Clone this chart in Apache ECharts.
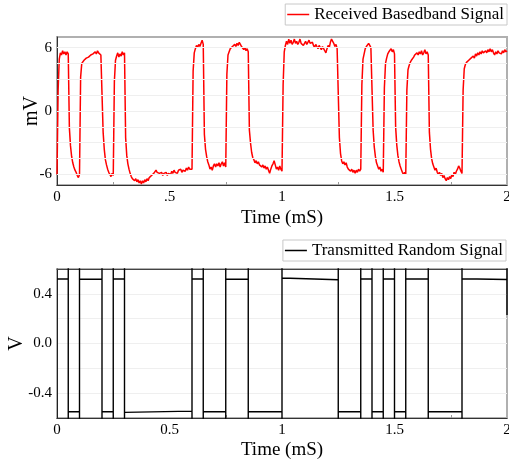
<!DOCTYPE html>
<html>
<head>
<meta charset="utf-8">
<title>Baseband signals</title>
<script src="https://cdn.jsdelivr.net/npm/echarts@6/dist/echarts.min.js"></script>
<style>
  html, body { margin: 0; padding: 0; background: #fff; }
  #chart { width: 509px; height: 468px; }
</style>
</head>
<body>
<div id="chart"></div>
<script>
// Time axis shared by both panels (mS)
const timeTicks = [0, 0.5, 1, 1.5, 2];
const rxTimeLabels = ['0', '.5', '1', '1.5', '2'];
const txTimeLabels = ['0', '0.5', '1', '1.5', '2'];

// Received baseband signal (mV), one sample every 0.005 mS from 0 to 2 mS
const rxStep = 0.005;
const rxValues = [
  -6.0, 2.0, 4.9, 5.5, 5.3, 5.7, 5.4, 5.6, 5.3, 5.6, 5.4,
  -1.6, -3.3, -4.3, -4.9, -5.3, -5.6, -5.8, -6.1, -6.3, -6.0,
  3.2, 4.5, 4.6, 4.8, 4.7, 5.0, 4.9, 5.1, 5.0, 5.3,
  5.2, 5.4, 5.3, 5.6, 5.4, 5.7, 5.5, 5.6, 5.3, 5.4,
  -2.0, -3.6, -4.6, -5.1, -5.5, -5.8, -6.0, -6.2, -5.9, -6.1,
  2.8, 4.8, 5.2, 5.5, 5.1, 5.4, 5.2, 5.6, 5.3, 5.5,
  -2.5, -4.2, -5.0, -5.5, -5.9, -6.2, -6.4, -6.3, -6.6, -6.4,
  -6.7, -6.5, -6.8, -6.6, -6.9, -6.6, -6.8, -6.5, -6.7, -6.4,
  -6.6, -6.3, -6.4, -6.1, -6.2, -5.9, -5.8, -5.6, -5.8, -5.7,
  -5.9, -6.0, -5.8, -6.1, -5.9, -6.0, -5.8, -6.1, -5.9, -5.8,
  -6.0, -5.7, -5.9, -5.6, -5.8, -5.7, -5.9, -5.6, -5.7, -5.5,
  -5.8, -5.6, -5.5, -5.7, -5.4, -5.6, -5.3, -5.5, -5.4, -5.5,
  3.8, 5.5, 5.9, 6.2, 6.0, 6.3, 6.1, 6.4, 6.7, 6.3,
  -2.2, -3.6, -4.3, -4.8, -5.1, -5.5, -5.3, -5.6, -5.2, -5.0,
  -5.3, -5.0, -5.2, -4.9, -5.3, -5.0, -4.8, -5.2, -4.9, -5.3,
  3.5, 5.3, 5.6, 5.9, 5.8, 6.1, 6.0, 6.3, 6.1, 6.4,
  6.2, 6.5, 6.3, 6.1, 6.2, 5.8, 6.0, 5.7, 5.9, 5.6,
  -1.8, -3.0, -3.9, -4.4, -4.6, -4.9, -4.7, -5.0, -4.8, -5.1,
  -5.0, -5.3, -5.1, -5.4, -5.2, -5.5, -5.3, -5.6, -5.9, -5.5,
  -5.2, -5.0, -4.7, -5.1, -5.5, -5.3, -5.6, -5.2, -5.5, -5.7,
  2.5, 5.6, 6.2, 6.6, 6.3, 6.8, 6.4, 6.7, 6.3, 6.5,
  6.8, 6.4, 6.6, 6.3, 6.5, 6.8, 6.4, 6.5, 6.2, 6.4,
  6.6, 6.3, 6.5, 6.7, 6.4, 6.3, 6.5, 6.2, 6.0, 6.3,
  6.1, 5.9, 6.2, 6.0, 5.8, 6.1, 5.9, 5.7, 5.5, 5.9,
  6.2, 6.0, 6.5, 6.8, 6.9, 6.4, 6.1, 6.3, 5.9, 5.8,
  -2.5, -4.0, -4.7, -5.0, -4.8, -5.1, -4.9, -5.3, -5.5, -5.4,
  -5.7, -5.5, -5.8, -5.6, -5.9, -5.6, -5.8, -5.5, -5.7, -5.5,
  2.5, 4.9, 5.4, 5.9, 6.1, 6.0, 6.4, 6.2, 6.0, 6.1,
  -1.8, -3.4, -4.3, -4.9, -5.2, -5.5, -5.3, -5.7, -5.5, -5.8,
  2.2, 4.5, 5.0, 5.4, 5.6, 5.5, 5.9, 5.6, 5.8, 5.4,
  -1.5, -3.2, -4.2, -4.8, -5.2, -5.5, -5.8, -6.0, -5.8, -6.0,
  2.0, 3.9, 4.3, 4.6, 4.8, 4.9, 5.1, 5.3, 5.2, 5.5,
  5.3, 5.6, 5.4, 5.7, 5.3, 5.5, 5.8, 5.4, 5.6, 5.3,
  -2.0, -3.6, -4.5, -5.0, -5.3, -5.6, -5.4, -5.8, -6.0, -5.8,
  -6.1, -5.9, -6.3, -6.1, -6.4, -6.6, -6.3, -6.5, -6.2, -6.4,
  -6.0, -6.2, -5.8, -6.0, -5.7, -5.5, -5.2, -5.4, -5.7, -5.9,
  2.0, 4.0, 4.4, 4.6, 4.5, 4.8, 4.7, 5.0, 4.9, 5.2,
  5.0, 5.4, 5.2, 5.5, 5.3, 5.6, 5.4, 5.7, 5.5, 5.4,
  5.7, 5.5, 5.8, 5.6, 5.9, 5.6, 5.8, 5.5, 5.3, 5.6,
  5.4, 5.7, 5.5, 5.6, 5.4, 5.7, 5.5, 5.8, 5.6, 5.7
];
const rxYTicks = [-6, 0, 6];
const rxYLabels = ['-6', '0', '6'];
const rxGridLevels = [-6, -4.5, -3, -1.5, 0, 1.5, 3, 4.5, 6];

// Transmitted random signal (V): bit edges and the level held between them
const txEdges = [0, 0.05, 0.1, 0.2, 0.25, 0.3, 0.6, 0.65, 0.75, 0.85, 1.0,
                 1.25, 1.35, 1.4, 1.45, 1.5, 1.55, 1.65, 1.8, 2.0];
const txLevelStart = [0.52, -0.55, 0.52, -0.55, 0.52, -0.555, 0.52, -0.55, 0.52, -0.55,
                      0.527, -0.55, 0.52, -0.55, 0.52, -0.55, 0.52, -0.55, 0.522];
const txLevelEnd = [0.52, -0.55, 0.518, -0.55, 0.52, -0.545, 0.52, -0.55, 0.518, -0.548,
                    0.514, -0.55, 0.52, -0.55, 0.52, -0.55, 0.52, -0.55, 0.516];
const txRinging = [1.0, -1.0];   // edge overshoot, beyond the plotted range
const txLastSample = 0.23;
const txYTicks = [-0.4, 0, 0.4];
const txYLabels = ['-0.4', '0.0', '0.4'];

const rxData = rxValues.map((v, i) => [+(i * rxStep).toFixed(3), v]);

const txData = [];
for (let k = 0; k < txLevelStart.length; k++) {
  txData.push([txEdges[k], txLevelStart[k]]);
  txData.push([txEdges[k + 1], txLevelEnd[k]]);
  txData.push([txEdges[k + 1], txRinging[0]]);
  if (k < txLevelStart.length - 1) {
    txData.push([txEdges[k + 1], txRinging[1]]);
  } else {
    txData.push([txEdges[k + 1], txLastSample]);
  }
}

const FONT = "'Liberation Serif', 'Times New Roman', serif";

function pickLabel(ticks, labels) {
  return function (v) {
    const i = ticks.findIndex(t => Math.abs(t - v) < 1e-6);
    return i >= 0 ? labels[i] : '';
  };
}

function timeAxis(gridIndex, labels, gap) {
  return {
    type: 'value', gridIndex: gridIndex, min: 0, max: 2, interval: 0.5,
    name: 'Time (mS)', nameLocation: 'middle', nameGap: gap, nameMoveOverlap: false,
    nameTextStyle: { fontFamily: FONT, fontSize: 19, color: '#000' },
    axisLine: { show: true, onZero: false, lineStyle: { color: '#333', width: 1 } },
    axisTick: { show: false, inside: true },
    minorTick: { show: true, splitNumber: 2, length: 3, lineStyle: { color: '#999', width: 1 } },
    axisLabel: { fontFamily: FONT, fontSize: 15, color: '#000', margin: 5,
                 formatter: pickLabel(timeTicks, labels) },
    splitLine: { show: false }
  };
}

const chart = echarts.init(document.getElementById('chart'), null, { renderer: 'canvas' });
chart.setOption({
  animation: false,
  backgroundColor: '#fff',
  grid: [
    { left: 57, right: 2, top: 37, height: 148, show: true, borderColor: '#b0b0b0',
      borderWidth: 2, backgroundColor: 'transparent', containLabel: false, outerBoundsMode: 'none' },
    { left: 57, right: 2, top: 269, height: 149, show: true, borderColor: '#b0b0b0',
      borderWidth: 2, backgroundColor: 'transparent', containLabel: false, outerBoundsMode: 'none' }
  ],
  legend: [
    { data: ['Received Basedband Signal'], right: 2, top: 4, icon: 'rect',
      itemWidth: 22, itemHeight: 1.5, padding: [2, 3, 2, 2],
      borderColor: '#c8c8c8', borderWidth: 1,
      textStyle: { fontFamily: FONT, fontSize: 17, color: '#000' } },
    { data: ['Transmitted Random Signal'], right: 3, top: 240, icon: 'rect',
      itemWidth: 22, itemHeight: 1.5, padding: [2, 3, 2, 2],
      borderColor: '#c8c8c8', borderWidth: 1,
      textStyle: { fontFamily: FONT, fontSize: 17, color: '#000' } }
  ],
  xAxis: [
    timeAxis(0, rxTimeLabels, 24),
    timeAxis(1, txTimeLabels, 23),
    { type: 'value', gridIndex: 1, position: 'top', min: 0, max: 2,
      axisLine: { show: true, onZero: false, lineStyle: { color: '#444', width: 1 } },
      axisTick: { show: false }, axisLabel: { show: false }, splitLine: { show: false } }
  ],
  yAxis: [
    { type: 'value', gridIndex: 0, min: -7, max: 7, interval: 1,
      name: 'mV', nameLocation: 'middle', nameGap: 15, nameMoveOverlap: false,
      nameTextStyle: { fontFamily: FONT, fontSize: 20, color: '#000' },
      axisLine: { show: true, onZero: false, lineStyle: { color: '#333', width: 1 } },
      axisTick: { show: false },
      axisLabel: { fontFamily: FONT, fontSize: 15, color: '#000', margin: 5,
                   formatter: pickLabel(rxYTicks, rxYLabels) },
      splitLine: { show: false } },
    { type: 'value', gridIndex: 1, min: -0.6, max: 0.6, interval: 0.2,
      name: 'V', nameLocation: 'middle', nameGap: 30, nameMoveOverlap: false,
      nameTextStyle: { fontFamily: FONT, fontSize: 20, color: '#000' },
      axisLine: { show: true, onZero: false, lineStyle: { color: '#222', width: 1 } },
      axisTick: { show: false },
      axisLabel: { fontFamily: FONT, fontSize: 15, color: '#000', margin: 5,
                   formatter: pickLabel(txYTicks, txYLabels) },
      splitLine: { show: true, lineStyle: { color: '#efefef', width: 1 } } }
  ],
  series: [
    { // horizontal guide lines of the upper panel
      name: 'guides', type: 'line', xAxisIndex: 0, yAxisIndex: 0, data: [], z: 1,
      silent: true,
      markLine: { silent: true, symbol: 'none', animation: false, label: { show: false },
                  lineStyle: { color: '#efefef', type: 'solid', width: 1 },
                  data: rxGridLevels.map(v => ({ yAxis: v })) } },
    { name: 'Received Basedband Signal', type: 'line', xAxisIndex: 0, yAxisIndex: 0,
      data: rxData, showSymbol: false, color: '#ff0000',
      lineStyle: { color: '#ff0000', width: 1.5 }, clip: true, z: 3 },
    { name: 'Transmitted Random Signal', type: 'line', xAxisIndex: 1, yAxisIndex: 1,
      data: txData, showSymbol: false, color: '#000',
      lineStyle: { color: '#000', width: 1.4 }, clip: true, z: 3 }
  ]
});
</script>
</body>
</html>
